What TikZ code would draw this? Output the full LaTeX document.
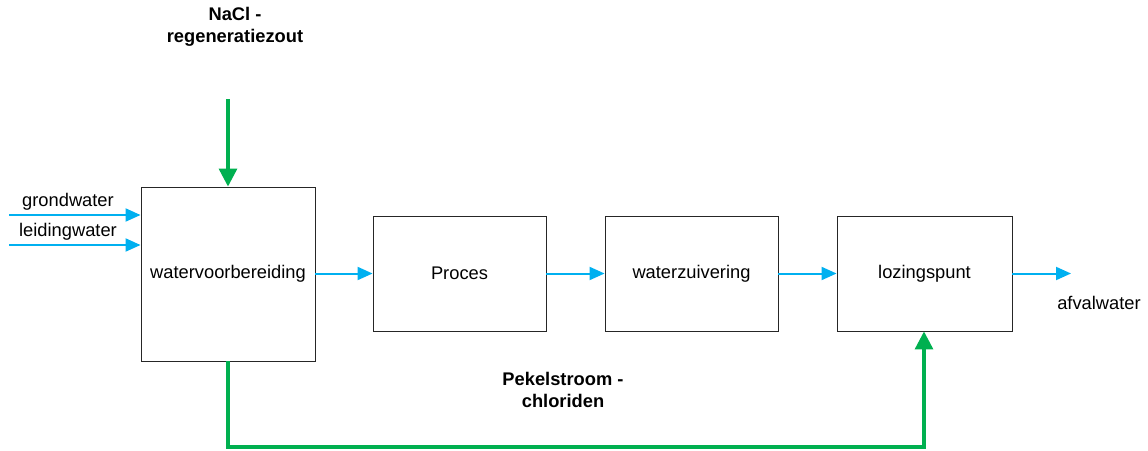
\documentclass[tikz,border=0pt]{standalone}
\usepackage{fontspec}
\setmainfont{Liberation Sans}
\usetikzlibrary{arrows.meta}
\definecolor{flowblue}{HTML}{00B0F0}
\definecolor{flowgreen}{HTML}{00B050}
\begin{document}
\begin{tikzpicture}[x=1pt,y=-1pt,
  unit/.style={draw=black!85,line width=0.9pt,minimum width=#1,inner sep=0pt,font=\fontsize{18.3}{21}\selectfont},
  water/.style={draw=flowblue,line width=2pt,-{Triangle[length=15pt,width=13pt]}},
  brine/.style={draw=flowgreen,line width=3.2pt,-{Triangle[length=18pt,width=18pt]}},
  lbl/.style={font=\fontsize{18.3}{21}\selectfont,inner sep=0pt},
  blbl/.style={font=\bfseries\fontsize{18.3}{22.5}\selectfont,align=center,inner sep=0pt}]
\useasboundingbox (0,0) rectangle (1148,450);
% process units
\node[unit=174pt,minimum height=174pt] (prep) at (228,274) {watervoorbereiding};
\node[unit=173pt,minimum height=115pt] (proc) at (459.5,273.5) {Proces};
\node[unit=173pt,minimum height=115pt] (zuiv) at (691.5,273.5) {waterzuivering};
\node[unit=175pt,minimum height=115pt] (loz) at (924.5,273.5) {lozingspunt};
% inlets
\coordinate (gin) at (9,215);
\coordinate (lin) at (9,245);
\draw[water] (gin) -- (gin -| prep.west);
\draw[water] (lin) -- (lin -| prep.west);
\node[lbl] (gl) at (68,202) {grondwater};
\node[lbl] (ll) at (68,232) {leidingwater};
% main water line
\draw[water] (prep.east |- proc.west) -- (proc.west);
\draw[water] (proc.east) -- (zuiv.west);
\draw[water] (zuiv.east) -- (loz.west);
\coordinate (out) at (1071,273.5);
\draw[water] (loz.east) -- (out);
\node[lbl] (al) at (1099,303) {afvalwater};
% regeneration salt
\coordinate (salt) at (228,99);
\draw[brine] (salt) -- (prep.north);
\node[blbl] (sl) at (235,27) {NaCl -\\regeneratiezout};
% brine discharge
\draw[brine] (prep.south) -- (228,447) -- (924,447) -- (loz.south -| 924,0);
\node[blbl] (pl) at (563,390) {Pekelstroom -\\chloriden};
\end{tikzpicture}
\end{document}
